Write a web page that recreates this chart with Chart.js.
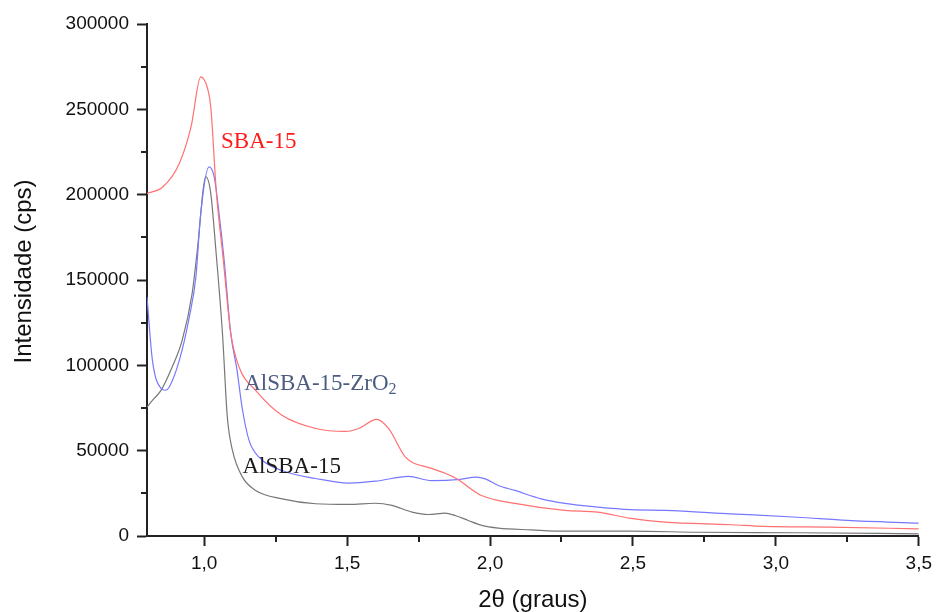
<!DOCTYPE html>
<html>
<head>
<meta charset="utf-8">
<script src="https://cdn.jsdelivr.net/npm/chart.js@4/dist/chart.umd.min.js"></script>
<style>
  html, body { margin: 0; padding: 0; background: #fff; }
  canvas { display: block; }
</style>
</head>
<body>
<canvas id="xrdChart" width="938" height="612"></canvas>
<script>
const sbaX = [0.80, 0.855, 0.913, 0.954, 0.988, 1.012, 1.023, 1.043, 1.067, 1.093, 1.122, 1.18, 1.272, 1.39, 1.494, 1.541, 1.603, 1.645, 1.704, 1.795, 1.843, 1.882, 1.97, 2.087, 2.262, 2.378, 2.493, 2.611, 2.842, 2.96, 3.19, 3.5];
const sbaY = [200700, 204500, 218300, 239700, 269000, 262200, 251500, 200700, 161600, 118700, 99000, 85300, 70700, 63000, 61300, 63000, 68300, 63000, 46200, 39600, 36800, 33700, 23700, 19100, 15000, 14000, 10300, 8100, 6600, 5600, 5200, 4200];

const zrX = [0.80, 0.819, 0.849, 0.865, 0.878, 0.913, 0.948, 0.971, 0.988, 1.017, 1.035, 1.052, 1.07, 1.093, 1.115, 1.133, 1.157, 1.192, 1.272, 1.39, 1.506, 1.599, 1.715, 1.795, 1.889, 1.952, 1.983, 2.029, 2.087, 2.179, 2.262, 2.378, 2.493, 2.611, 2.842, 3.075, 3.25, 3.5];
const zrY = [140000, 102900, 86500, 85400, 87300, 102900, 128300, 151800, 189100, 216300, 210400, 189100, 161600, 118700, 97000, 75000, 56000, 46200, 38400, 33700, 31000, 32100, 34900, 32500, 33000, 34500, 33500, 29600, 26700, 21800, 19100, 16900, 15400, 15000, 13000, 11000, 9100, 7500];

const alX = [0.80, 0.819, 0.849, 0.888, 0.923, 0.958, 0.976, 1.006, 1.023, 1.041, 1.064, 1.081, 1.099, 1.134, 1.18, 1.273, 1.39, 1.506, 1.599, 1.657, 1.727, 1.785, 1.843, 1.878, 1.924, 1.971, 2.029, 2.144, 2.262, 2.493, 2.727, 3.075, 3.5];
const alY = [75500, 79500, 85300, 99000, 114600, 142200, 167400, 210400, 200800, 167400, 118700, 69700, 50100, 34500, 26700, 21800, 18900, 18500, 19200, 17900, 14000, 12600, 13400, 12000, 9100, 6200, 4600, 3600, 2800, 2800, 2200, 1900, 1300];

const xTicks = [1.0, 1.5, 2.0, 2.5, 3.0, 3.5];
const xMinor = [1.25, 1.75, 2.25, 2.75, 3.25];
const yTicks = [0, 50000, 100000, 150000, 200000, 250000, 300000];
const yMinor = [25000, 75000, 125000, 175000, 225000, 275000];

// rótulos das curvas: [texto, subscrito, x, y, cor]
const curveLabels = [
    ['SBA-15', '', 1.059, 227100, '#ff1a1a'],
    ['AlSBA-15-ZrO', '2', 1.140, 85700, '#4c5c80'],
    ['AlSBA-15', '', 1.134, 36800, '#1a1a1a']
];

const yTitle = 'Intensidade (cps)';

function toPoints(xs, ys) {
    return xs.map((x, i) => ({ x: x, y: ys[i] }));
}

// marcas menores, título do eixo y e rótulos das curvas
const extrasPlugin = {
    id: 'extras',
    afterDraw(chart) {
        const ctx = chart.ctx;
        const xs = chart.scales.x;
        const ys = chart.scales.y;
        const area = chart.chartArea;
        ctx.save();
        ctx.strokeStyle = '#222';
        ctx.lineWidth = 2;
        yMinor.forEach(v => {
            const py = Math.round(ys.getPixelForValue(v));
            ctx.beginPath();
            ctx.moveTo(area.left - 6, py);
            ctx.lineTo(area.left, py);
            ctx.stroke();
        });
        xMinor.forEach(v => {
            const px = Math.round(xs.getPixelForValue(v));
            ctx.beginPath();
            ctx.moveTo(px, area.bottom);
            ctx.lineTo(px, area.bottom + 6);
            ctx.stroke();
        });

        // título do eixo y (um pouco acima do centro, como no original)
        ctx.save();
        ctx.translate(24, ys.getPixelForValue(155000));
        ctx.rotate(-Math.PI / 2);
        ctx.fillStyle = '#111';
        ctx.font = '24px "Liberation Sans", Arial, sans-serif';
        ctx.textAlign = 'center';
        ctx.textBaseline = 'middle';
        ctx.fillText(yTitle, 0, 0);
        ctx.restore();

        ctx.textBaseline = 'alphabetic';
        ctx.textAlign = 'left';
        curveLabels.forEach(([txt, sub, vx, vy, color]) => {
            const px = xs.getPixelForValue(vx);
            const py = ys.getPixelForValue(vy);
            ctx.fillStyle = color;
            ctx.font = '23px "Liberation Serif", "DejaVu Serif", serif';
            ctx.fillText(txt, px, py);
            if (sub) {
                const w = ctx.measureText(txt).width;
                ctx.font = '16px "Liberation Serif", "DejaVu Serif", serif';
                ctx.fillText(sub, px + w, py + 4);
            }
        });
        ctx.restore();
    }
};

const ctx = document.getElementById('xrdChart');
new Chart(ctx, {
    type: 'line',
    data: {
        datasets: [
            {
                label: 'SBA-15',
                data: toPoints(sbaX, sbaY),
                borderColor: '#ff7070',
                borderWidth: 1.2
            },
            {
                label: 'AlSBA-15-ZrO2',
                data: toPoints(zrX, zrY),
                borderColor: '#7878ff',
                borderWidth: 1.2
            },
            {
                label: 'AlSBA-15',
                data: toPoints(alX, alY),
                borderColor: '#777777',
                borderWidth: 1.2
            }
        ]
    },
    options: {
        responsive: false,
        animation: false,
        layout: {
            padding: { left: 0, right: 16, top: 24, bottom: 0 }
        },
        elements: {
            point: { radius: 0 },
            line: { cubicInterpolationMode: 'monotone', fill: false }
        },
        plugins: {
            legend: { display: false },
            tooltip: { enabled: false }
        },
        scales: {
            x: {
                type: 'linear',
                min: 0.8,
                max: 3.5,
                afterBuildTicks: function(scale) {
                    scale.ticks = xTicks.map(v => ({ value: v }));
                },
                afterFit: function(scale) {
                    scale.height = 76;
                },
                grid: {
                    drawOnChartArea: false,
                    tickLength: 10,
                    tickWidth: 2,
                    tickColor: '#222'
                },
                border: { color: '#222', width: 2 },
                ticks: {
                    color: '#111',
                    padding: 6,
                    maxRotation: 0,
                    font: { family: '"Liberation Sans", Arial, sans-serif', size: 19 },
                    callback: function(value) {
                        return value.toFixed(1).replace('.', ',');
                    }
                },
                title: {
                    display: true,
                    text: '2θ (graus)',
                    color: '#111',
                    padding: { top: 0, bottom: 0 },
                    font: { family: '"Liberation Sans", Arial, sans-serif', size: 24, lineHeight: 1 }
                }
            },
            y: {
                min: 0,
                max: 300000,
                afterBuildTicks: function(scale) {
                    scale.ticks = yTicks.map(v => ({ value: v }));
                },
                afterFit: function(scale) {
                    scale.width = 147;
                },
                grid: {
                    drawOnChartArea: false,
                    tickLength: 10,
                    tickWidth: 2,
                    tickColor: '#222'
                },
                border: { color: '#222', width: 2 },
                ticks: {
                    color: '#111',
                    padding: 8,
                    font: { family: '"Liberation Sans", Arial, sans-serif', size: 19 },
                    callback: function(value) {
                        return String(value);
                    }
                }
            }
        }
    },
    plugins: [extrasPlugin]
});
</script>
</body>
</html>
